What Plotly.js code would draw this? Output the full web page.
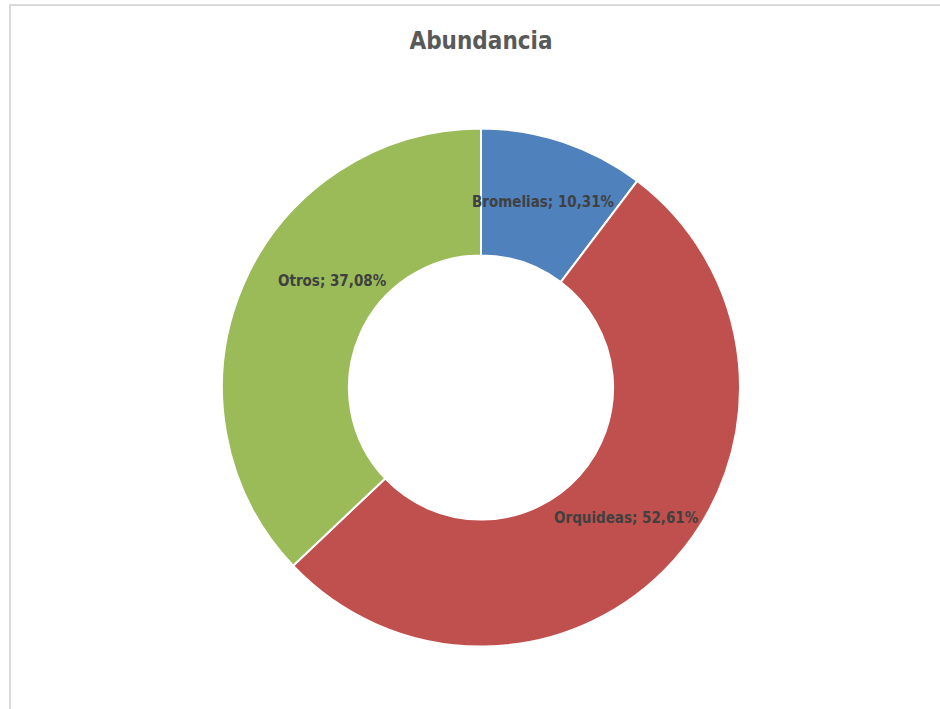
<!DOCTYPE html>
<html>
<head>
<meta charset="utf-8">
<script src="https://cdn.plot.ly/plotly-3.0.1.min.js"></script>
<style>
  html, body { margin: 0; padding: 0; background: #ffffff; overflow: hidden; }
  #frame { position: absolute; left: 9px; top: 4px; width: 1000px; height: 800px;
           border-left: 2px solid #d9d9d9; border-top: 2px solid #d9d9d9; pointer-events: none; z-index: 5; }
  #chart { position: absolute; left: 0; top: 0; width: 940px; height: 709px; }
</style>
</head>
<body>
<div id="chart"></div>
<div id="frame"></div>
<script>
// ---- data ----
const categories = ["Bromelias", "Orquideas", "Otros"];
const percentages = [10.31, 52.61, 37.08];
const labelTexts = ["Bromelias; 10,31%", "Orquideas; 52,61%", "Otros; 37,08%"];
const sliceColors = ["#4F81BD", "#C0504D", "#9BBB59"];
const chartTitle = "Abundancia";

// ---- layout constants ----
const W = 940, H = 709;
const cx = 481, cy = 387.5, R = 259, holeFrac = 0.51;
const labelAngleOffset = [0, 0, 12.4]; // degrees, label placement tweak
const labelRadiusScale = [1, 1, 0.935];
const labelRadius = (R * (1 + holeFrac)) / 2;
const fontFam = "'Liberation Sans Narrow', 'DejaVu Sans Condensed', 'Open Sans', sans-serif";

const trace = {
  type: "pie",
  labels: categories,
  values: percentages,
  sort: false,
  direction: "clockwise",
  rotation: 0,
  hole: holeFrac,
  textinfo: "none",
  hoverinfo: "label+percent",
  marker: { colors: sliceColors, line: { color: "#ffffff", width: 2 } },
  domain: { x: [(cx - R) / W, (cx + R) / W], y: [1 - (cy + R) / H, 1 - (cy - R) / H] },
  showlegend: false
};

// label positions derived from the data's cumulative angles
const total = percentages.reduce((a, b) => a + b, 0);
let cum = 0;
const annotations = percentages.map((v, i) => {
  const start = cum / total * 360;
  cum += v;
  const end = cum / total * 360;
  const mid = (start + end) / 2 + labelAngleOffset[i];
  const rad = mid * Math.PI / 180;
  const r = labelRadius * labelRadiusScale[i];
  const px = cx + r * Math.sin(rad);
  const py = cy - r * Math.cos(rad);
  return {
    xref: "paper", yref: "paper", x: px / W, y: 1 - py / H,
    xanchor: "center", yanchor: "middle", showarrow: false,
    text: "<b>" + labelTexts[i] + "</b>",
    font: { family: fontFam, size: 15, color: "#404040" }
  };
});

const layout = {
  width: W, height: H,
  margin: { l: 0, r: 0, t: 0, b: 0 },
  paper_bgcolor: "#ffffff",
  title: {
    text: "<b>" + chartTitle + "</b>",
    x: 481 / W, xanchor: "center", y: 1 - 41 / H, yanchor: "middle",
    font: { family: fontFam, size: 24, color: "#595959" }
  },
  annotations: annotations
};

Plotly.newPlot("chart", [trace], layout, { staticPlot: true, displayModeBar: false });
</script>
</body>
</html>
